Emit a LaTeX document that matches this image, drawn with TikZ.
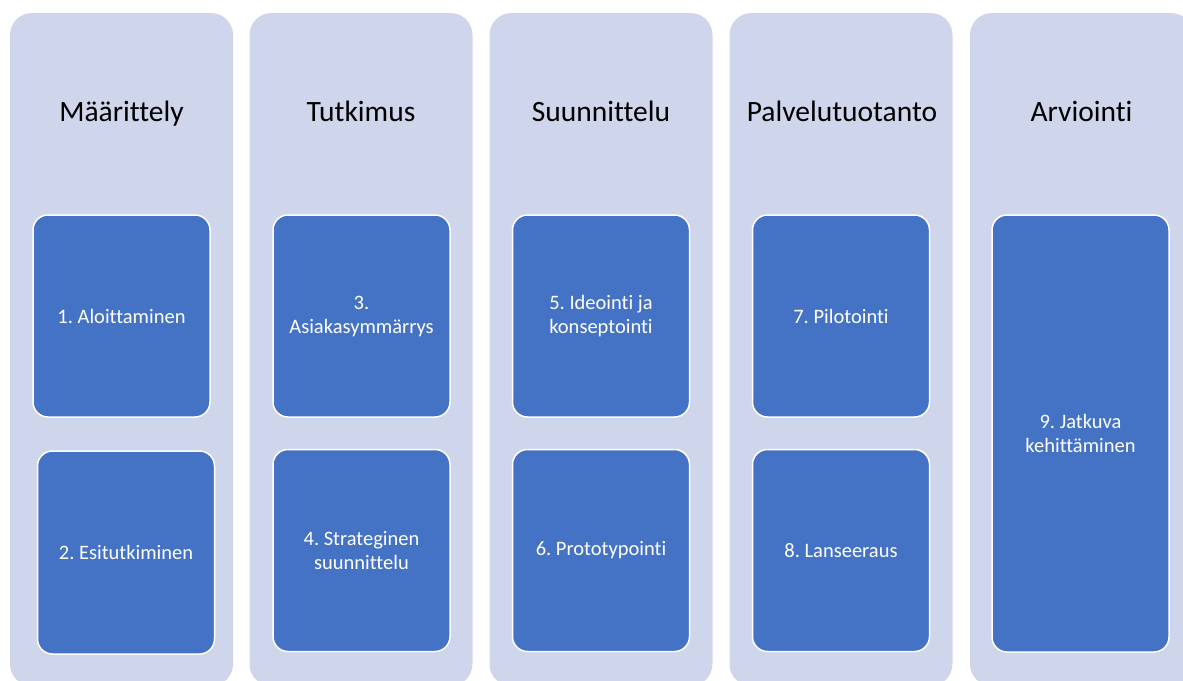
\documentclass[tikz,border=0pt]{standalone}
\usepackage{fontspec}
\setmainfont{Carlito}[Ligatures=CommonOff]
\frenchspacing
\definecolor{phasefill}{HTML}{CFD5EA}
\definecolor{stepfill}{HTML}{4472C4}
\begin{document}
\begin{tikzpicture}[x=1pt,y=-1pt,
  phase/.style={shape=rectangle, rounded corners=22pt, fill=phasefill, draw=none,
    minimum width=223pt, minimum height=673pt, inner sep=0pt},
  phasetitle/.style={anchor=base, font=\fontsize{29.5}{35}\selectfont, text=black},
  stepbox/.style={shape=rectangle, rounded corners=15pt, fill=stepfill, draw=white,
    line width=1.5pt, minimum width=177pt, minimum height=202pt, inner sep=0pt,
    align=center, text=white, font=\fontsize{20.5}{24}\selectfont\frenchspacing}]
\useasboundingbox (0,0) rectangle (1183,680);
\clip (0,0) rectangle (1183,680);

% phase columns
\node[phase] (p1) at (121.5,349.5) {};
\node[phase] (p2) at (361,349.5) {};
\node[phase] (p3) at (601,349.5) {};
\node[phase] (p4) at (841,349.5) {};
\node[phase] (p5) at (1081.5,349.5) {};

% phase titles
\node[phasetitle] (t1) at (121.5,121.5) {Määrittely};
\node[phasetitle] (t2) at (361,121.5) {Tutkimus};
\node[phasetitle] (t3) at (601,121.5) {Suunnittelu};
\node[phasetitle] (t4) at (842,121.5) {Palvelutuotanto};
\node[phasetitle] (t5) at (1081.5,121.5) {Arviointi};

% steps
\node[stepbox] (s1) at (121.5,316) {1. Aloittaminen};
\node[stepbox, minimum height=203pt] (s2) at (126,552.5) {2. Esitutkiminen};
\node[stepbox] (s3) at (361.5,316) {3.\\Asiakasymmärrys};
\node[stepbox] (s4) at (361.5,550.5) {4. Strateginen\\suunnittelu};
\node[stepbox] (s5) at (601,316) {5. Ideointi ja\\konseptointi};
\node[stepbox] (s6) at (601,550.5) {6. Prototypointi};
\node[stepbox] (s7) at (841,316) {7. Pilotointi};
\node[stepbox] (s8) at (841,550.5) {8. Lanseeraus};
\node[stepbox, minimum height=437pt] (s9) at (1080.5,433.5) {9. Jatkuva\\kehittäminen};
\end{tikzpicture}
\end{document}
